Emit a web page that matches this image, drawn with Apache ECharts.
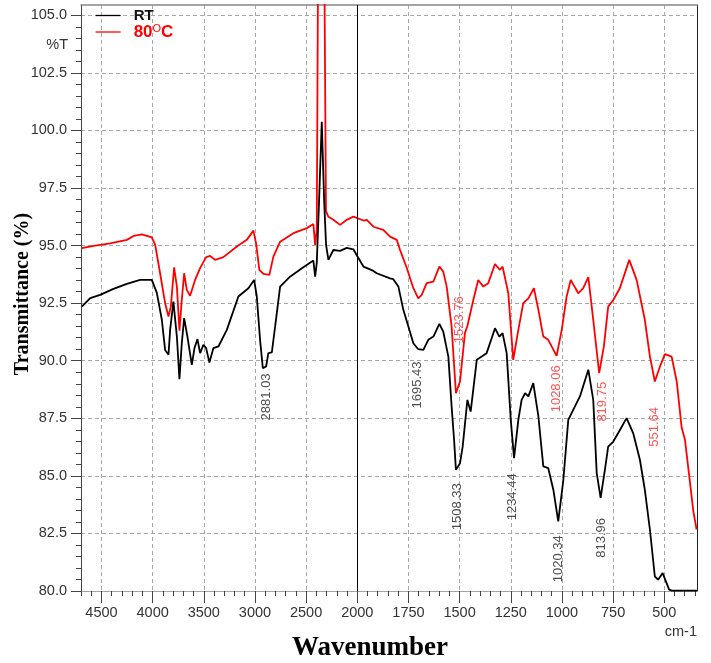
<!DOCTYPE html>
<html><head><meta charset="utf-8">
<script src="https://cdn.jsdelivr.net/npm/echarts@6/dist/echarts.min.js"></script>
<style>html,body{margin:0;padding:0;background:#fff}#c{width:711px;height:663px}</style>
</head><body><div id="c"></div><script>
// ---- data (wavenumber in cm-1, transmittance in %) ----
const rtWave = [4692,4610,4513,4383,4252,4122,4008,3959,3910,3878,3845,3829,3797,3763,3738,3715,3692,3660,3617,3591,3562,3536,3504,3477,3445,3406,3357,3275,3162,3064,3008,2982,2950,2923,2891,2869,2835,2803,2754,2657,2527,2429,2412,2396,2373,2347,2324,2305,2282,2234,2168,2103,2038,2001,1970,1921,1905,1840,1824,1799,1775,1750,1726,1702,1677,1653,1628,1599,1580,1555,1539,1527,1518,1498,1485,1462,1446,1416,1392,1368,1327,1306,1290,1270,1250,1234,1213,1197,1180,1164,1140,1115,1091,1067,1042,1018,993,969,945,912,871,847,830,811,790,774,749,725,684,652,619,595,570,546,530,508,492,476,463,400,340];
const rtT = [92.35,92.72,92.86,93.12,93.34,93.51,93.51,92.95,91.78,90.47,90.26,91.34,92.57,91.05,89.20,90.76,91.85,91.05,89.82,90.55,90.94,90.33,90.69,90.55,89.92,90.55,90.62,91.34,92.79,93.15,93.51,92.79,90.91,89.68,89.75,90.33,90.36,91.48,93.22,93.65,94.06,94.35,93.65,94.24,96.98,100.38,96.98,95.03,94.38,94.81,94.77,94.90,94.84,94.55,94.09,93.90,93.80,93.58,93.54,93.22,92.21,91.48,90.76,90.50,90.47,90.91,91.05,91.60,91.27,90.18,88.01,86.57,85.26,85.55,86.27,88.30,87.79,90.04,90.18,90.33,91.41,91.05,91.20,90.33,87.43,85.77,87.43,88.30,88.59,88.45,89.03,87.58,85.41,85.34,84.40,83.02,84.83,87.43,87.87,88.45,89.61,88.30,85.12,84.04,85.26,86.27,86.49,86.86,87.51,86.86,85.70,84.40,82.66,80.63,80.49,80.78,80.42,80.06,80.02,80.02,80.02];
const hotWave = [4692,4578,4415,4252,4187,4105,4008,3975,3927,3878,3845,3822,3790,3763,3738,3715,3692,3666,3634,3585,3536,3477,3438,3389,3308,3177,3080,3015,2989,2957,2917,2859,2820,2754,2624,2493,2429,2412,2396,2380,2326,2306,2282,2234,2168,2103,2038,2022,1970,1954,1921,1873,1840,1807,1791,1758,1726,1702,1685,1661,1628,1599,1580,1563,1539,1518,1498,1474,1462,1433,1409,1384,1360,1327,1303,1290,1262,1238,1213,1189,1164,1137,1115,1091,1067,1026,1001,977,957,920,896,871,847,818,795,774,749,717,671,635,595,570,546,521,497,464,439,415,399,375,358,342];
const hotT = [94.89,94.99,95.10,95.25,95.42,95.49,95.36,95.03,93.80,92.50,91.92,92.35,94.06,93.22,91.31,92.64,93.80,93.08,92.82,93.51,94.02,94.50,94.55,94.38,94.50,94.96,95.25,95.65,95.10,93.95,93.77,93.73,94.52,95.17,95.54,95.76,95.94,95.03,95.68,110.0,110.0,96.50,96.25,96.12,95.90,96.12,96.26,96.29,96.09,96.12,95.82,95.68,95.39,95.25,94.81,94.03,93.15,92.71,92.86,93.37,93.44,94.09,93.87,93.22,91.48,88.59,89.10,91.20,91.51,92.64,93.51,93.22,93.37,94.20,93.95,94.09,92.93,90.04,91.34,92.50,92.71,93.15,92.21,91.05,90.91,90.21,91.34,92.79,93.51,92.93,93.15,93.63,91.78,89.46,90.62,92.35,92.64,93.15,94.38,93.51,91.78,90.18,89.10,89.75,90.29,90.18,89.10,87.10,86.58,84.77,83.47,82.67];
const xTickLabels = [4500,4000,3500,3000,2500,2000,1750,1500,1250,1000,750,500];
const yTickLabels = [80,82.5,85,87.5,90,92.5,95,97.5,100,102.5,105];
const rtPeakText = ['2881.03','1695.43','1508.33','1234.44','1020.34','813.96'];
const rtPeakWave = [2891,1705,1510,1244,1019,809];
const rtPeakT = [88.43,88.95,83.66,84.09,81.40,82.31];
const hotPeakText = ['1523.76','1028.06','819.75','551.64'];
const hotPeakWave = [1503,1029,802,550];
const hotPeakT = [91.78,88.78,88.22,87.13];

// axis scale: 2x expansion below 2000 cm-1
function toU(w){ return w <= 2000 ? w : 2000 + (w - 2000) / 2; }
function fromU(u){ return u <= 2000 ? u : 2000 + (u - 2000) * 2; }
const X_MIN = toU(340), X_MAX = toU(4700);
const Y_MIN = 80, Y_MAX = 105.45;
const xMajorU = xTickLabels.map(toU);
const xMinorU = []; for (let u = 350; u <= 3350; u += 50) xMinorU.push(u);
const yMinor = []; for (let v = 80.5; v <= 105.01; v += 0.5) yMinor.push(+v.toFixed(1));

const FONT = '"Liberation Sans", Arial, sans-serif';
const chart = echarts.init(document.getElementById('c'), null, {renderer:'canvas'});
const pairs = (ws, ts) => ws.map((w, i) => [toU(w), ts[i]]);
const peaks = (txt, ws, ts) => txt.map((t, i) => ({name: t, value: [toU(ws[i]), ts[i]]}));
const dash = {type: [4, 3], color: '#a8a8a8', width: 1};

chart.setOption({
  animation: false,
  textStyle: {fontFamily: FONT},
  grid: {left: 81, right: 14, top: 5, bottom: 72, containLabel: false},
  xAxis: [
    {type: 'value', min: X_MIN, max: X_MAX, inverse: true, position: 'bottom',
     axisLine: {show: true, lineStyle: {color: '#a0a0a0', type: [4, 3]}},
     axisTick: {show: true, customValues: xMajorU, length: 12, lineStyle: {color: '#444'}},
     axisLabel: {show: true, customValues: xMajorU, formatter: u => String(Math.round(fromU(u))), fontSize: 14.5, color: '#333', margin: 14, fontFamily: FONT},
     splitLine: {show: true, lineStyle: dash}},
    {type: 'value', min: X_MIN, max: X_MAX, inverse: true, position: 'bottom',
     axisLine: {show: false}, axisLabel: {show: false}, splitLine: {show: false},
     axisTick: {show: true, customValues: xMinorU, length: 5, lineStyle: {color: '#444'}}},
    {type: 'value', min: X_MIN, max: X_MAX, position: 'top',
     axisLine: {show: true, lineStyle: {color: '#888', width: 1.5}}, axisLabel: {show: false}, axisTick: {show: false}, splitLine: {show: false}}
  ],
  yAxis: [
    {type: 'value', min: Y_MIN, max: Y_MAX, position: 'left',
     axisLine: {show: true, lineStyle: {color: '#444'}},
     axisTick: {show: true, customValues: yTickLabels, length: 10, lineStyle: {color: '#444'}},
     axisLabel: {show: true, customValues: yTickLabels, formatter: v => v.toFixed(1), fontSize: 14.5, color: '#333', margin: 14, fontFamily: FONT},
     splitLine: {show: true, lineStyle: dash}},
    {type: 'value', min: Y_MIN, max: Y_MAX, position: 'left',
     axisLine: {show: false}, axisLabel: {show: false}, splitLine: {show: false},
     axisTick: {show: true, customValues: yMinor, length: 5, lineStyle: {color: '#444'}}},
    {type: 'value', min: Y_MIN, max: Y_MAX, position: 'right',
     axisLine: {show: true, lineStyle: {color: '#222'}}, axisLabel: {show: false}, axisTick: {show: false}, splitLine: {show: false}}
  ],
  legend: {
    data: ['RT', '80°C'], orient: 'vertical', left: 90, top: 3, itemWidth: 25, itemHeight: 12, itemGap: 0,
    lineStyle: {width: 1.3}, itemStyle: {opacity: 0},
    formatter: n => n === 'RT' ? '{rt|RT}' : '{hot|80}{sup|O}{hot|C}',
    textStyle: {padding: [0, 0, 0, 8], rich: {
      rt: {fontWeight: 'bold', fontSize: 15, color: '#111', fontFamily: FONT, lineHeight: 18},
      hot: {fontSize: 17, color: '#ff0000', fontFamily: FONT, fontWeight: 'bold', lineHeight: 18},
      sup: {fontSize: 11, color: '#ff0000', fontFamily: FONT, verticalAlign: 'top', lineHeight: 18}
    }}
  },
  series: [
    {name: '80°C', type: 'line', xAxisIndex: 0, yAxisIndex: 0, data: pairs(hotWave, hotT), symbol: 'none', clip: true,
     lineStyle: {color: '#ff0000', width: 1.8}, itemStyle: {color: '#ff0000'}, z: 3},
    {name: 'RT', type: 'line', xAxisIndex: 0, yAxisIndex: 0, data: pairs(rtWave, rtT), symbol: 'none', clip: true,
     lineStyle: {color: '#000', width: 1.8}, itemStyle: {color: '#000'}, z: 4,
     markLine: {silent: true, symbol: 'none', label: {show: false}, lineStyle: {color: '#000', type: 'solid', width: 1},
       data: [{xAxis: toU(2000)}]}},
    {name: 'rtPeaks', type: 'scatter', data: peaks(rtPeakText, rtPeakWave, rtPeakT), symbolSize: 0, z: 5,
     label: {show: true, position: 'inside', rotate: 90, formatter: p => p.name, fontSize: 13, color: '#222', fontFamily: FONT}},
    {name: 'hotPeaks', type: 'scatter', data: peaks(hotPeakText, hotPeakWave, hotPeakT), symbolSize: 0, z: 5,
     label: {show: true, position: 'inside', rotate: 90, formatter: p => p.name, fontSize: 13, color: '#ff2a2a', fontFamily: FONT}}
  ],
  graphic: [
    {type: 'text', x: 68, y: 45, style: {text: '%T', align: 'right', verticalAlign: 'middle', fontSize: 14.5, fontFamily: FONT, fill: '#333'}},
    {type: 'text', x: 23, y: 294, rotation: Math.PI / 2, style: {text: 'Transmittance (%)', align: 'center', verticalAlign: 'middle', fontSize: 20, fontWeight: 'bold', fontFamily: '"Liberation Serif", "Times New Roman", serif', fill: '#000'}},
    {type: 'text', x: 370, y: 648, style: {text: 'Wavenumber', align: 'center', verticalAlign: 'middle', fontSize: 27, fontWeight: 'bold', fontFamily: '"Liberation Serif", "Times New Roman", serif', fill: '#000'}},
    {type: 'text', x: 697, y: 632, style: {text: 'cm-1', align: 'right', verticalAlign: 'middle', fontSize: 14.5, fontFamily: FONT, fill: '#333'}}
  ]
});
</script></body></html>
